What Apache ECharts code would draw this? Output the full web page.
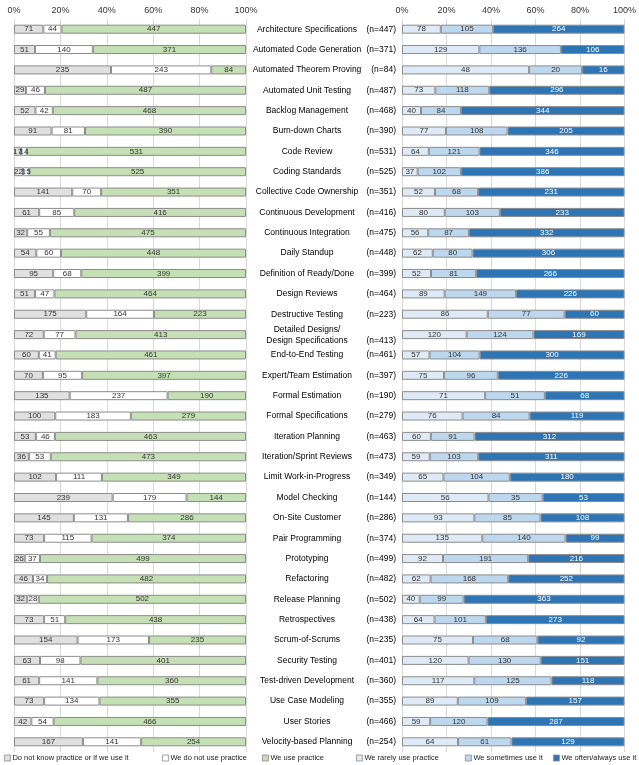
<!DOCTYPE html>
<html><head><meta charset="utf-8">
<script src="https://cdn.jsdelivr.net/npm/echarts@6/dist/echarts.min.js"></script>
<style>html,body{margin:0;padding:0;background:#fff}#c{width:639px;height:765px}</style>
</head><body><div id="c"></div>
<script>
const categories = ["Architecture Specifications","Automated Code Generation","Automated Theorem Proving","Automated Unit Testing","Backlog Management","Burn-down Charts","Code Review","Coding Standards","Collective Code Ownership","Continuous Development","Continuous Integration","Daily Standup","Definition of Ready/Done","Design Reviews","Destructive Testing","Detailed Designs/\nDesign Specifications","End-to-End Testing","Expert/Team Estimation","Formal Estimation","Formal Specifications","Iteration Planning","Iteration/Sprint Reviews","Limit Work-in-Progress","Model Checking","On-Site Customer","Pair Programming","Prototyping","Refactoring","Release Planning","Retrospectives","Scrum-of-Scrums","Security Testing","Test-driven Development","Use Case Modeling","User Stories","Velocity-based Planning"];
const doNotKnow = [71,51,235,29,52,91,17,22,141,61,32,54,95,51,175,72,60,70,135,100,53,36,102,239,145,73,26,46,32,73,154,63,61,73,42,167];
const doNotUse  = [44,140,243,46,42,81,14,15,70,85,55,60,68,47,164,77,41,95,237,183,46,53,111,179,131,115,37,34,28,51,173,98,141,134,54,141];
const usePractice = [447,371,84,487,468,390,531,525,351,416,475,448,399,464,223,413,461,397,190,279,463,473,349,144,286,374,499,482,502,438,235,401,360,355,466,254];
const rarely    = [78,129,48,73,40,77,64,37,52,80,56,62,52,89,86,120,57,75,71,76,60,59,65,56,93,135,92,62,40,64,75,120,117,89,59,64];
const sometimes = [105,136,20,118,84,108,121,102,68,103,87,80,81,149,77,124,104,96,51,84,91,103,104,35,85,140,191,168,99,101,68,130,125,109,120,61];
const often     = [264,106,16,296,344,205,346,386,231,233,332,306,266,226,60,169,300,226,68,119,312,311,180,53,108,99,216,252,363,273,92,151,118,157,287,129];
const axisTicks = [0,20,40,60,80,100];

const leftTot = doNotKnow.map((v,i)=>v+doNotUse[i]+usePractice[i]);
const rightTot = rarely.map((v,i)=>v+sometimes[i]+often[i]);

const chart = echarts.init(document.getElementById('c'), null, {renderer:'canvas'});
const FONT = '"Liberation Sans", Arial, sans-serif';

function mkSeries(name, counts, totals, color, axisIdx, labelColor){
  return {
    name, type:'bar', stack:'s'+axisIdx, xAxisIndex:axisIdx, yAxisIndex:axisIdx,
    barWidth:9,
    data: counts.map((v,i)=>({value: v/totals[i]*100, cnt: v})),
    itemStyle:{color, borderColor:'#8c8c8c', borderWidth:1},
    label:{show:true, position:'inside', fontSize:8, fontFamily:FONT, color:labelColor,
      formatter: p => p.data.cnt},
    emphasis:{disabled:true}
  };
}

const xCommon = {type:'value', min:axisTicks[0], max:axisTicks[axisTicks.length-1], interval:20, position:'top',
  axisLabel:{formatter:'{value}%', fontSize:9, fontFamily:FONT, color:'#333', margin:4},
  axisLine:{show:false}, axisTick:{show:false},
  splitLine:{lineStyle:{color:'#d9d9d9', width:1}}};

const legendItems = [
  {name:'Do not know practice or if we use it', left:4},
  {name:'We do not use practice', left:162},
  {name:'We use practice', left:262},
  {name:'We rarely use practice', left:356},
  {name:'We sometimes use it', left:465},
  {name:'We often/always use it', left:553}
];

chart.setOption({
  animation:false,
  textStyle:{fontFamily:FONT},
  grid:[
    {left:14, right:393, top:19, height:733},
    {left:402, right:6, top:19, height:733}
  ],
  xAxis:[Object.assign({gridIndex:0}, xCommon), Object.assign({gridIndex:1}, xCommon)],
  yAxis:[
    {type:'category', gridIndex:0, data:categories, inverse:true, position:'right',
     axisLine:{show:false}, axisTick:{show:false},
     axisLabel:{margin:4, interval:0, fontFamily:FONT, color:'#000',
       formatter:(val, idx)=>{
         const parts = val.split('\n');
         const nTxt = '(n=' + rightTot[idx] + ')';
         if(parts.length>1){
           return '{a|'+parts[0]+'}{e|}\n{a|'+parts[1]+'}{b|'+nTxt+'}';
         }
         return '{a|'+val+'}{b|'+nTxt+'}';
       },
       rich:{
         a:{width:114, align:'center', fontSize:8.5, fontFamily:FONT, color:'#000', lineHeight:10},
         b:{width:32, align:'right', fontSize:8.5, fontFamily:FONT, color:'#000', lineHeight:10},
         e:{width:32}
       }}},
    {type:'category', gridIndex:1, data:categories, inverse:true,
     axisLine:{show:false}, axisTick:{show:false}, axisLabel:{show:false}}
  ],
  legend: legendItems.map(l=>({data:[l.name], left:l.left, top:754, itemWidth:6, itemHeight:6,
    icon:'rect', padding:0, textStyle:{fontSize:7.5, fontFamily:FONT, color:'#222', padding:[0,0,0,-3]},
    selectedMode:false, itemStyle:{borderColor:'#8c8c8c', borderWidth:0.8}})),
  series:[
    mkSeries('Do not know practice or if we use it', doNotKnow, leftTot, '#e0e0e0', 0, '#333'),
    mkSeries('We do not use practice', doNotUse, leftTot, '#ffffff', 0, '#333'),
    mkSeries('We use practice', usePractice, leftTot, '#c5e0b4', 0, '#333'),
    mkSeries('We rarely use practice', rarely, rightTot, '#deebf7', 1, '#333'),
    mkSeries('We sometimes use it', sometimes, rightTot, '#bdd7ee', 1, '#333'),
    mkSeries('We often/always use it', often, rightTot, '#2e75b6', 1, '#ffffff')
  ]
});
</script></body></html>
